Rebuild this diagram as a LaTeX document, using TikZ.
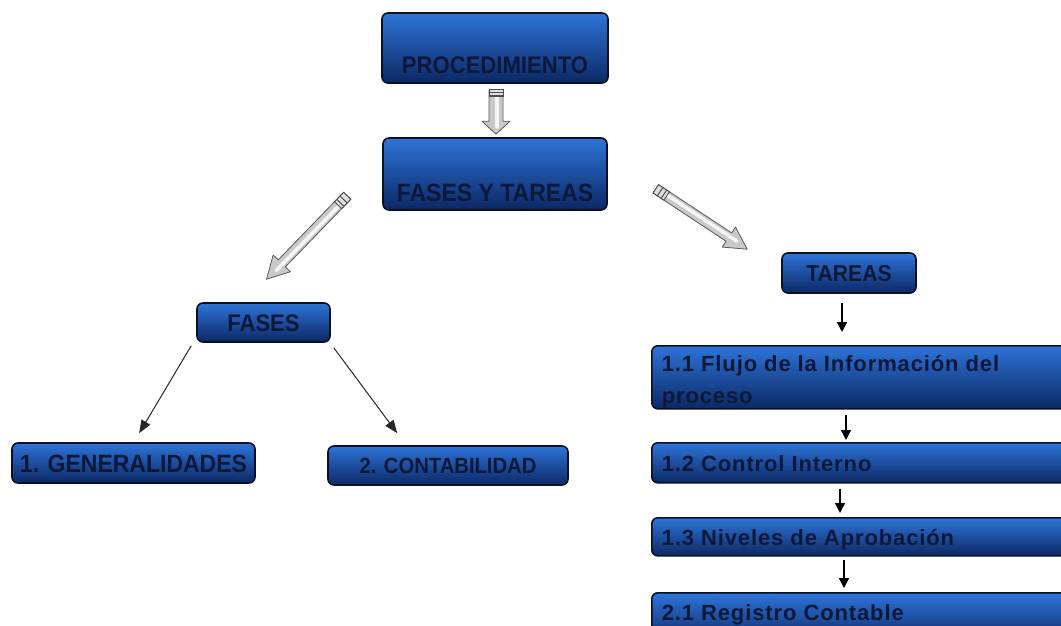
\documentclass[tikz,border=0pt]{standalone}
\usepackage{fontspec}
\setmainfont{Liberation Sans}
\newfontfamily\boxfont[FakeStretch=0.92]{Liberation Sans}
\newfontfamily\taskfont[LetterSpace=4]{Liberation Sans}
\usetikzlibrary{calc,arrows.meta}

\definecolor{boxtop}{RGB}{46,116,216}
\definecolor{boxmid}{RGB}{28,88,184}
\definecolor{boxbot}{RGB}{12,40,100}
\definecolor{boxedge}{RGB}{10,16,36}
\definecolor{boxtext}{RGB}{12,24,58}

\tikzset{
  bluebox/.style={draw=boxedge, line width=1.6pt, rounded corners=6pt,
    top color=boxtop, middle color=boxmid, bottom color=boxbot,
    text=boxtext, inner xsep=0pt, inner ysep=0pt},
  titlefont/.style={font=\boxfont\bfseries\fontsize{#1}{#1}\selectfont},
  taskbox/.style={bluebox, anchor=north west, inner xsep=10pt,
    font=\taskfont\bfseries\fontsize{22}{32}\selectfont},
  flow/.style={line width=1.4pt, -{Triangle[length=10pt,width=10pt]}},
  branch/.style={line width=1pt, black!85, -{Triangle[length=13pt,width=10pt]}},
  arrowbody/.style={fill=gray!42, draw=black!65, line width=0.8pt, line join=round},
  arrowband/.style={fill=gray!25, draw=black!70, line width=0.9pt}
}

% shaded hollow arrow: #1 tail, #2 tip, #3 shaft half-width,
% #4 head half-width, #5 head length, #6 length of the tail band
\newcommand\grayarrow[6]{%
  \coordinate (#1-n) at ($(#2)!#5pt!(#1)$);
  \coordinate (#1-b) at ($(#1)!#6pt!(#2)$);
  \filldraw[arrowbody]
    ($(#1)!#3pt!90:(#2)$) -- ($(#1-n)!#3pt!-90:(#1)$) --
    ($(#1-n)!#4pt!-90:(#1)$) -- (#2) --
    ($(#1-n)!#4pt!90:(#1)$) -- ($(#1-n)!#3pt!90:(#1)$) --
    ($(#1)!#3pt!-90:(#2)$) -- cycle;
  \draw[white, opacity=0.85, line width=#3pt*0.7, line cap=round]
    ($(#1-b)!1pt!90:(#2)$) -- ($(#1-n)!0.4!(#2)!1pt!90:(#2)$);
  \filldraw[arrowband]
    ($(#1)!#3pt!90:(#2)$) -- ($(#1-b)!#3pt!-90:(#1)$) --
    ($(#1-b)!#3pt!90:(#1)$) -- ($(#1)!#3pt!-90:(#2)$) -- cycle;
  \draw[black!70, line width=1pt]
    ($(#1)!0.4!(#1-b)!#3pt!90:(#2)$) -- ($(#1)!0.4!(#1-b)!#3pt!-90:(#2)$)
    ($(#1)!0.75!(#1-b)!#3pt!90:(#2)$) -- ($(#1)!0.75!(#1-b)!#3pt!-90:(#2)$);
}

\newcommand\tasktext[1]{\parbox[t]{400pt}{\raggedright #1}}

\begin{document}
\begin{tikzpicture}[x=1pt,y=-1pt]
\useasboundingbox (0,0) rectangle (1061,626);
\clip (0,0) rectangle (1061,626);
\fill[white] (0,0) rectangle (1061,626);

% top of the map
\node[bluebox, titlefont=24, minimum width=226pt, text height=61pt, text depth=9pt]
  (proc) at (495,48) {PROCEDIMIENTO};
\node[bluebox, titlefont=25, minimum width=224pt, text height=63pt, text depth=9pt]
  (fyt) at (495,174) {FASES Y TAREAS};

% phases branch
\node[bluebox, titlefont=24, minimum width=133pt, text height=28pt, text depth=11pt]
  (fases) at (263.5,322.5) {FASES};
\node[bluebox, titlefont=25, minimum width=243pt, text height=29pt, text depth=11pt]
  (gen) at (133.5,463) {1. GENERALIDADES};
\node[bluebox, titlefont=22, minimum width=240pt, text height=27.5pt, text depth=11.5pt]
  (cont) at (448,465.5) {2. CONTABILIDAD};

% tasks branch
\node[bluebox, titlefont=23, minimum width=134pt, text height=28pt, text depth=12pt]
  (tareas) at (849,273) {TAREAS};
\node[taskbox, text height=26pt, text depth=37pt] (f11) at (651,345)
  {\tasktext{1.1 Flujo de la Información del\\proceso}};
\node[taskbox, text height=28.5pt, text depth=11.5pt] (f12) at (651,442)
  {\tasktext{1.2 Control Interno}};
\node[taskbox, text height=28pt, text depth=10pt] (f13) at (651,517)
  {\tasktext{1.3 Niveles de Aprobación}};
\node[taskbox, text height=28pt, text depth=24pt] (f21) at (651,592)
  {\tasktext{2.1 Registro Contable}};

% hollow grey arrows
\coordinate (va) at ($(proc.south)+(1,6)$);
\coordinate (vb) at ($(fyt.north)+(1,-3)$);
\grayarrow{va}{vb}{7}{14}{13}{7}
\coordinate (la) at ($(fyt.south west)+(-35,-15)$);
\coordinate (lb) at ($(fases.north)+(3,-23)$);
\grayarrow{la}{lb}{5}{12}{22}{13}
\coordinate (ra) at ($(fyt.south east)+(48,-22)$);
\coordinate (rb) at ($(tareas.north west)+(-34,-3)$);
\grayarrow{ra}{rb}{5}{12}{22}{13}

% phase connectors
\draw[branch] ([shift={(-5,3)}]fases.south west) -- ([shift={(128,-9)}]gen.north west);
\draw[branch] ([shift={(3,5)}]fases.south east) -- ([shift={(70,-12)}]cont.north west);

% task chain
\coordinate (c1) at (842,0);
\coordinate (c2) at (846,0);
\coordinate (c3) at (840,0);
\coordinate (c4) at (844,0);
\draw[flow, shorten <=9pt, shorten >=13pt] (tareas.south -| c1) -- (f11.north -| c1);
\draw[flow, shorten <=5pt, shorten >=2pt] (f11.south -| c2) -- (f12.north -| c2);
\draw[flow, shorten <=5pt, shorten >=4pt] (f12.south -| c3) -- (f13.north -| c3);
\draw[flow, shorten <=3pt, shorten >=4pt] (f13.south -| c4) -- (f21.north -| c4);
\end{tikzpicture}
\end{document}
